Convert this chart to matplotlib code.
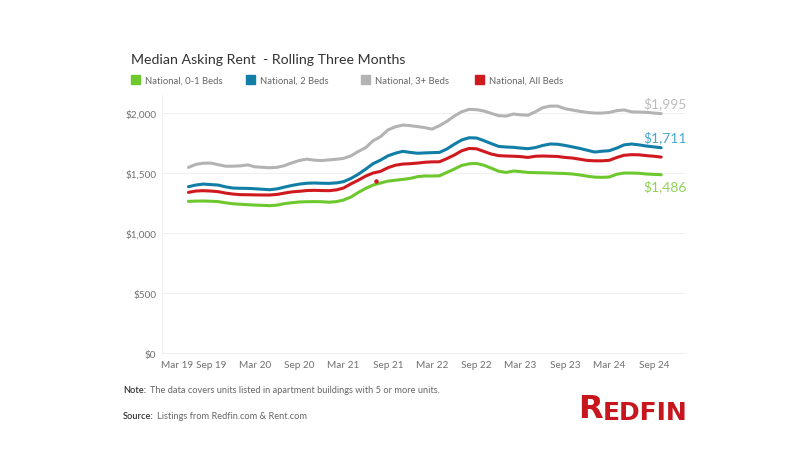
import matplotlib
matplotlib.use("Agg")
import matplotlib.pyplot as plt
import pandas as pd

# monthly rolling three-month median asking rent, Jun 2019 - Oct 2024
months = pd.date_range("2019-06-01", "2024-10-01", freq="MS")

beds_01 = [1264, 1266, 1267, 1265, 1262, 1252, 1244, 1240, 1236, 1233, 1231, 1228, 1233,
           1245, 1253, 1259, 1261, 1262, 1261, 1257, 1262, 1275, 1300, 1338, 1372, 1400,
           1417, 1433, 1440, 1447, 1455, 1470, 1476, 1475, 1477, 1505, 1533, 1563, 1577,
           1580, 1565, 1540, 1515, 1505, 1517, 1512, 1505, 1503, 1502, 1500, 1498, 1496,
           1492, 1484, 1474, 1466, 1464, 1467, 1490, 1500, 1500, 1498, 1492, 1489, 1486]
beds_2 = [1386, 1400, 1408, 1404, 1400, 1385, 1375, 1373, 1372, 1369, 1365, 1361, 1368,
          1383, 1397, 1408, 1415, 1417, 1415, 1414, 1418, 1428, 1455, 1490, 1533, 1578,
          1608, 1644, 1665, 1681, 1672, 1665, 1668, 1670, 1672, 1700, 1740, 1775, 1794,
          1792, 1770, 1745, 1722, 1717, 1714, 1708, 1703, 1712, 1730, 1742, 1740, 1730,
          1718, 1705, 1690, 1675, 1682, 1686, 1708, 1735, 1742, 1735, 1725, 1718, 1711]
beds_3 = [1547, 1572, 1582, 1583, 1570, 1557, 1557, 1560, 1568, 1552, 1548, 1544, 1548,
          1562, 1585, 1605, 1616, 1607, 1604, 1610, 1615, 1622, 1643, 1680, 1712, 1769,
          1803, 1860, 1885, 1900, 1895, 1887, 1878, 1866, 1895, 1930, 1975, 2010, 2031,
          2028, 2017, 1997, 1978, 1975, 1992, 1985, 1982, 2010, 2045, 2058, 2058, 2036,
          2025, 2014, 2005, 2000, 2000, 2005, 2020, 2026, 2010, 2008, 2006, 2000, 1995]
beds_all = [1339, 1350, 1353, 1350, 1345, 1333, 1325, 1320, 1319, 1318, 1317, 1317, 1322,
            1333, 1343, 1348, 1354, 1356, 1354, 1353, 1360, 1375, 1410, 1440, 1475, 1500,
            1514, 1545, 1565, 1575, 1578, 1583, 1590, 1593, 1594, 1620, 1650, 1685, 1705,
            1702, 1680, 1658, 1645, 1642, 1640, 1637, 1630, 1640, 1642, 1640, 1638, 1630,
            1625, 1615, 1605, 1602, 1602, 1606, 1630, 1648, 1653, 1652, 1645, 1640, 1633]

# stray point on the all-beds series
dot_date = pd.Timestamp("2021-07-15")
dot_value = 1436

names = ["National, 0-1 Beds", "National, 2 Beds", "National, 3+ Beds", "National, All Beds"]
colors = ["#6dc82e", "#107ea6", "#b3b3b3", "#d0191f"]
label_colors = ["#8fd35c", "#4aa8cb", "#bcbcbc"]
tick_labels = ["Mar 19", "Sep 19", "Mar 20", "Sep 20", "Mar 21", "Sep 21",
               "Mar 22", "Sep 22", "Mar 23", "Sep 23", "Mar 24", "Sep 24"]
tick_dates = pd.date_range("2019-03-01", "2024-09-01", freq="6MS")

plt.rcParams["font.family"] = ["Lato", "DejaVu Sans"]

fig = plt.figure(figsize=(8, 4.64), dpi=100)
ax = fig.add_axes([0.2025, 0.237, 0.654, 0.556])

series = [beds_01, beds_2, beds_3, beds_all]
# gray first, then the others on top
for i in [2, 1, 3, 0]:
    ax.plot(months, series[i], color=colors[i], lw=2.2, solid_capstyle="round", zorder=3)
ax.scatter([dot_date], [dot_value], s=5, color=colors[3], zorder=3)

ax.set_ylim(0, 2150)
ax.set_xlim(pd.Timestamp("2019-02-12"), pd.Timestamp("2025-01-08"))
ax.set_yticks([0, 500, 1000, 1500, 2000])
ax.set_yticklabels(["$0", "$500", "$1,000", "$1,500", "$2,000"])
ax.set_xticks(tick_dates)
# first label is pushed inside the plot (like tableau does), drawn separately below
ax.set_xticklabels([""] + tick_labels[1:])
ax.tick_params(axis="both", length=0, labelsize=7.2, colors="#707070")
ax.tick_params(axis="x", pad=5)
ax.tick_params(axis="y", pad=4)
ax.annotate(tick_labels[0], xy=(tick_dates[0], 0), xycoords=("data", "axes fraction"),
            xytext=(-3.5, -5), textcoords="offset points", ha="left", va="top",
            fontsize=7.2, color="#707070", annotation_clip=False)

ax.grid(axis="y", color="#f0f0f0", lw=0.8)
for s in ["top", "right"]:
    ax.spines[s].set_visible(False)
ax.spines["left"].set_color("#f0f0f0")
ax.spines["bottom"].set_color("#f0f0f0")
ax.set_axisbelow(True)

# end-of-line value labels
ends = [(beds_3, label_colors[2], 7.5), (beds_2, label_colors[1], 8), (beds_01, label_colors[0], -8)]
for vals, c, dy in ends:
    ax.annotate(f"${vals[-1]:,}", (months[-1], vals[-1]), xytext=(-13, dy),
                textcoords="offset points", fontsize=10, color=c, ha="left", va="center")

fig.text(131 / 800, 1 - 60 / 464, "Median Asking Rent  - Rolling Three Months",
         fontsize=10.2, color="#333333", va="center")

legend_x = [131, 246, 361, 475]
for i in range(4):
    fig.patches.append(plt.Rectangle((legend_x[i] / 800, 1 - 85 / 464), 9 / 800, 9 / 464,
                                     transform=fig.transFigure, color=colors[i]))
    fig.text((legend_x[i] + 14) / 800, 1 - 81 / 464, names[i], fontsize=6.8,
             color="#666666", va="center")

note = fig.text(123 / 800, 1 - 391 / 464, "Note:", fontsize=6.7, color="#333333",
                va="center", fontweight="semibold")
ax.annotate("The data covers units listed in apartment buildings with 5 or more units.",
            xy=(1, 0.5), xycoords=note, xytext=(2.5, 0), textcoords="offset points",
            fontsize=6.7, color="#666666", va="center", annotation_clip=False)
src = fig.text(123 / 800, 1 - 417 / 464, "Source:", fontsize=6.7, color="#333333",
               va="center", fontweight="semibold")
ax.annotate("Listings from Redfin.com & Rent.com",
            xy=(1, 0.5), xycoords=src, xytext=(2.5, 0), textcoords="offset points",
            fontsize=6.7, color="#666666", va="center", annotation_clip=False)

# logo
logo_font = ["Liberation Sans Narrow", "DejaVu Sans"]
r = fig.text(578 / 800, 1 - 418 / 464, "R", fontsize=23, color="#c8161e",
             fontweight="bold", family=logo_font, va="baseline")
ax.annotate("EDFIN", xy=(1, 0), xycoords=r, xytext=(0.3, 0), textcoords="offset points",
            fontsize=18, color="#c8161e", fontweight="bold", family=logo_font,
            va="bottom", annotation_clip=False)

fig.savefig("out.png", dpi=100)
